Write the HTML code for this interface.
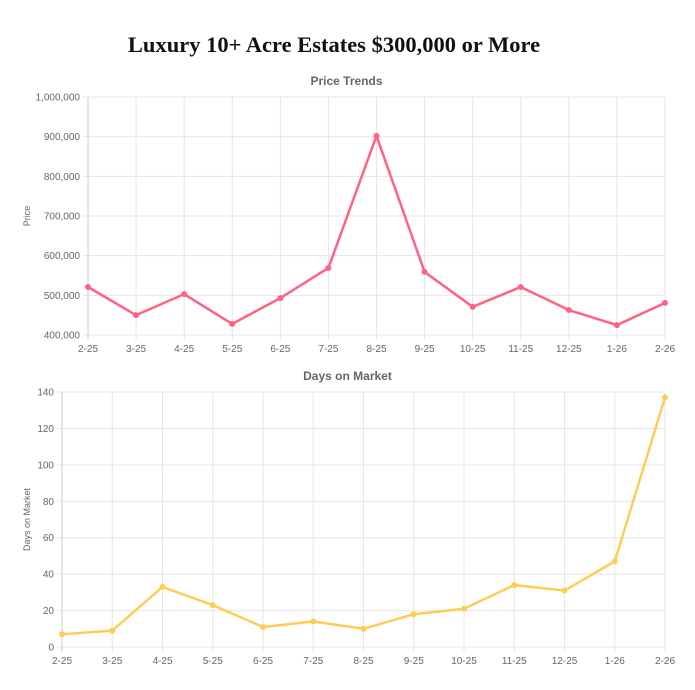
<!DOCTYPE html>
<html><head><meta charset="utf-8"><style>
body{margin:0;background:#fff;width:695px;height:690px;overflow:hidden}
h1{position:absolute;left:0;width:668px;top:32px;margin:0;text-align:center;font:bold 22.5px "Liberation Serif",serif;color:#111}
svg{position:absolute;left:0;top:0}
text{font-family:"Liberation Sans",sans-serif}
</style></head><body>
<h1>Luxury 10+ Acre Estates $300,000 or More</h1>
<svg id="s" width="695" height="690"></svg>
<script>
const labels=["2-25","3-25","4-25","5-25","6-25","7-25","8-25","9-25","10-25","11-25","12-25","1-26","2-26"];
const priceValues=[521000,450000,503000,428000,493000,569000,902000,559000,471000,521000,463000,425000,481000];
const priceTicks=[400000,500000,600000,700000,800000,900000,1000000];
const domValues=[7,9,33,23,11,14,10,18,21,34,31,47,137];
const domTicks=[0,20,40,60,80,100,120,140];
const svg=document.getElementById('s');
const NS='http://www.w3.org/2000/svg';
function mk(t,a){const e=document.createElementNS(NS,t);for(const k in a)e.setAttribute(k,a[k]);svg.appendChild(e);return e;}
function chart(o){
  const xs=i=>o.x0+(o.x1-o.x0)*i/(labels.length-1);
  const ys=v=>o.yb+(o.yt-o.yb)*(v-o.min)/(o.max-o.min);
  o.ticks.forEach(t=>{
    const g=mk('line',{x1:o.x0-5,x2:o.x1,y1:ys(t),y2:ys(t),stroke:'#e6e6e6'});
    
    const tx=mk('text',{x:o.x0-8,y:ys(t)+3.5,'text-anchor':'end','font-size':'10',fill:'#666'});
    tx.textContent=o.fmt(t);
    
  });
  labels.forEach((l,i)=>{
    const g=mk('line',{x1:xs(i),x2:xs(i),y1:o.yt,y2:o.yb+5,stroke:i==0?'#ccc':'#e6e6e6'});
    
    const tx=mk('text',{x:xs(i),y:o.yb+17,'text-anchor':'middle','font-size':'10',fill:'#666'});
    tx.textContent=l;
    
  });
  const ti=mk('text',{x:(o.x0+o.x1)/2+o.tdx,y:o.yt-12,'text-anchor':'middle','font-size':'12','font-weight':'bold',fill:'#666'});
  ti.textContent=o.title;
  const yt=mk('text',{x:0,y:0,transform:`translate(30,${(o.yt+o.yb)/2}) rotate(-90)`,'text-anchor':'middle','font-size':'9',fill:'#666'});
  yt.textContent=o.ylab;
  const p=mk('polyline',{points:o.vals.map((v,i)=>xs(i)+','+ys(v)).join(' '),fill:'none',stroke:o.color,'stroke-width':'2.5','stroke-linejoin':'round'});
  
  o.vals.forEach((v,i)=>{
    const c=mk('circle',{cx:xs(i),cy:ys(v),r:2.5,fill:o.color,stroke:o.color});
    
  });
}
chart({x0:88,x1:665,yt:97,yb:335,min:400000,max:1000000,ticks:priceTicks,vals:priceValues,
  fmt:v=>v.toLocaleString('en-US'),title:'Price Trends',ylab:'Price',color:'#ff6384',name:'price',tdx:-30});
chart({x0:62,x1:665,yt:392,yb:647,min:0,max:140,ticks:domTicks,vals:domValues,
  fmt:v=>String(v),title:'Days on Market',ylab:'Days on Market',color:'#ffcd56',name:'days-on-market',tdx:-16});
</script>
</body></html>
